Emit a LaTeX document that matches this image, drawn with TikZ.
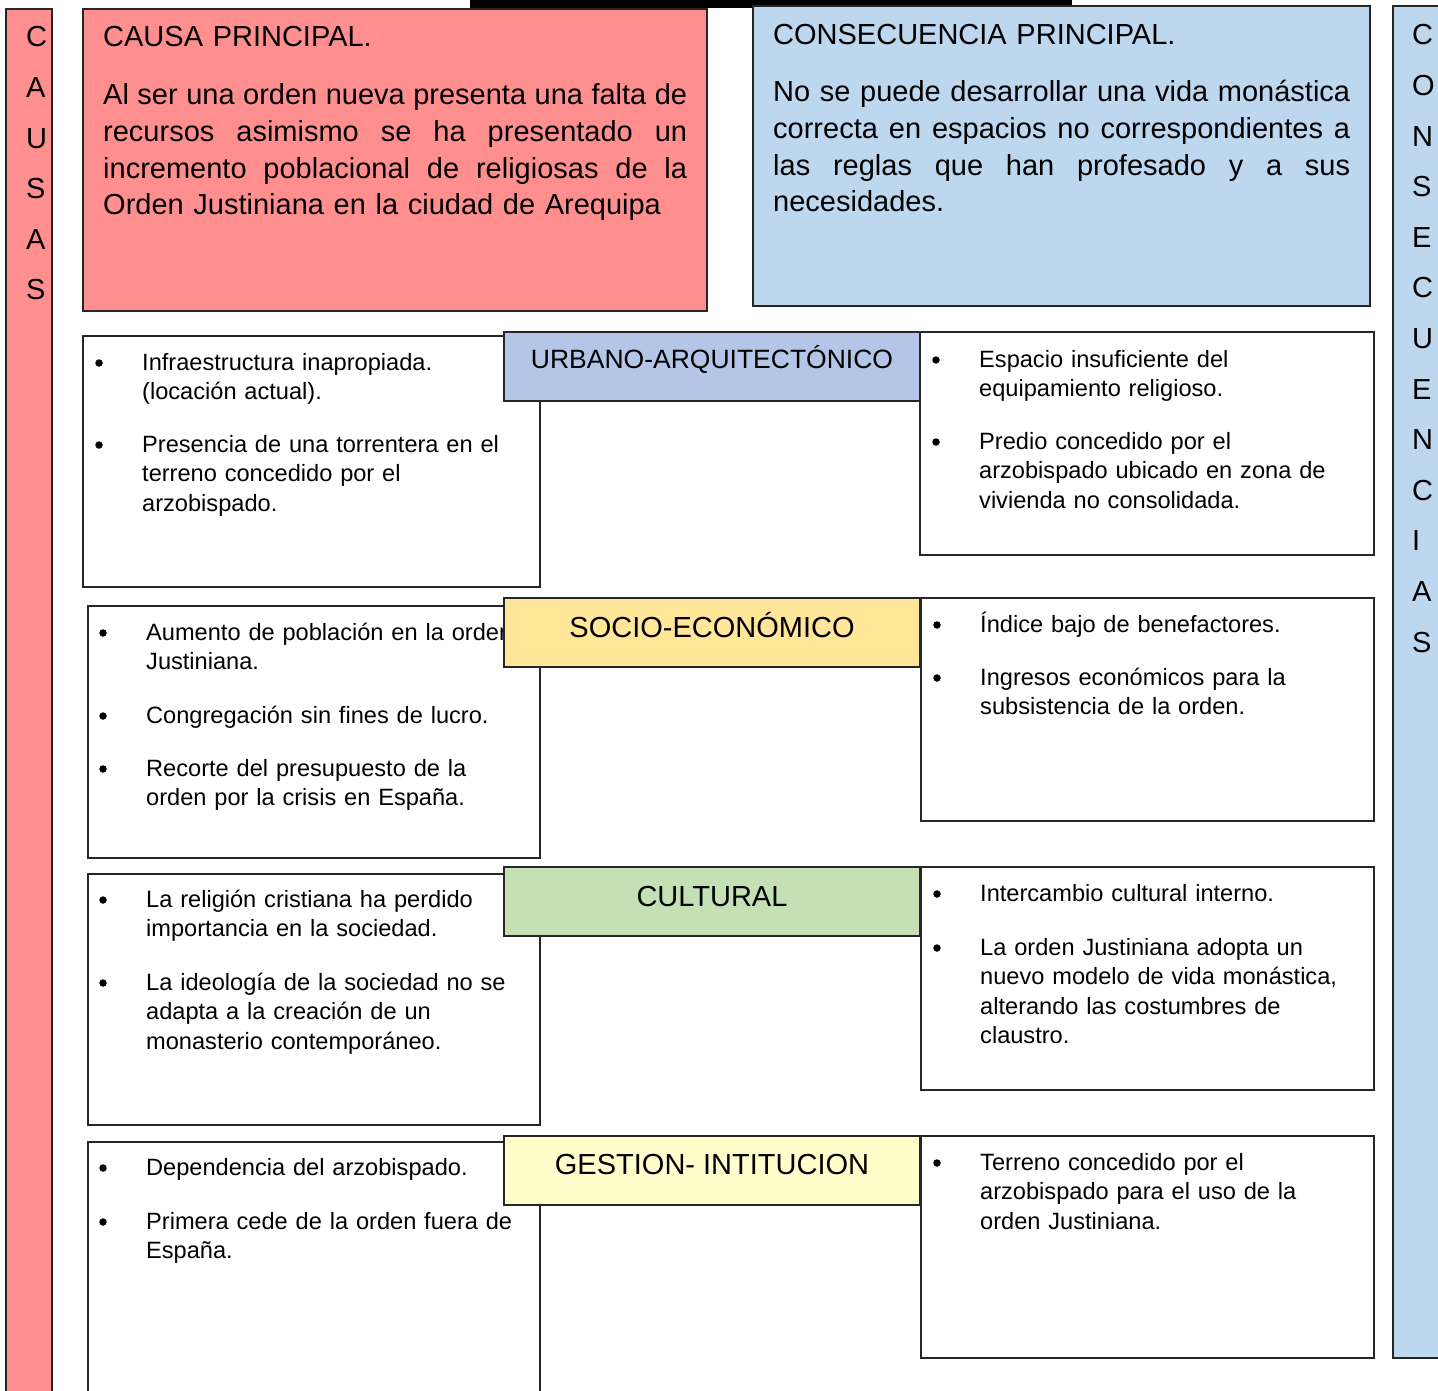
\documentclass[tikz,border=0pt]{standalone}
\usepackage{fontspec}
\setmainfont{Liberation Sans}
\definecolor{causared}{RGB}{255,143,143}
\definecolor{consblue}{RGB}{189,215,238}
\definecolor{urbblue}{RGB}{180,198,231}
\definecolor{socyel}{RGB}{255,230,153}
\definecolor{culgreen}{RGB}{197,224,180}
\definecolor{gesyel}{RGB}{255,255,204}
\newcommand\fbody{\fontsize{23.6}{29.5}\selectfont}
\newcommand\fbig{\fontsize{29}{36.6}\selectfont}
\newcommand\fletters{\fontsize{29}{50.6}\selectfont}
\newcommand\fhdr{\fontsize{29}{34}\selectfont}
\newcommand\jline[2]{\leavevmode\hbox to #1{\spaceskip=0.278em plus 1fil minus 0.2em\relax #2}}
\begin{document}
\begin{tikzpicture}[x=1pt,y=-1pt,
  panel/.style={draw=black!85,line width=2pt},
  item/.style={anchor=base west,inner sep=0pt,font=\fbody,text width=420pt,align=left},
  bigtext/.style={anchor=base west,inner sep=0pt,font=\fbig,text width=600pt,align=left},
  letters/.style={anchor=base west,inner sep=0pt,font=\fletters,text width=40pt,align=left},
  hdrtext/.style={anchor=base,inner sep=0pt,font=\fhdr},
  bul/.style={circle,fill=black,inner sep=0pt,minimum size=7.5pt}]
\useasboundingbox (0,0) rectangle (1438,1391);
\fill[white] (0,0) rectangle (1438,1391);

% top black bar
\fill[black] (470,-5) rectangle (1072,8);

% side columns
\path[panel,fill=causared] (6,9) rectangle (52,1400);
\node[letters] (vcausas) at (26,47) {C\\A\\U\\S\\A\\S};
\path[panel,fill=consblue] (1393,6) rectangle (1450,1358);
\node[letters] (vcons) at (1412,45) {C\\O\\N\\S\\E\\C\\U\\E\\N\\C\\I\\A\\S};

% main boxes
\path[panel,fill=causared] (83,9) rectangle (707,311);
\node[bigtext] (ct) at (103,47) {CAUSA PRINCIPAL.};
\node[bigtext] (cp) at (103,105) {\jline{584pt}{Al ser una orden nueva presenta una falta de}\\
\jline{584pt}{recursos asimismo se ha presentado un}\\
\jline{584pt}{incremento poblacional de religiosas de la}\\
Orden Justiniana en la ciudad de Arequipa};

\path[panel,fill=consblue] (753,6) rectangle (1370,306);
\node[bigtext] (kt) at (773,45) {CONSECUENCIA PRINCIPAL.};
\node[bigtext] (kp) at (773,102) {\jline{577pt}{No se puede desarrollar una vida monástica}\\
\jline{577pt}{correcta en espacios no correspondientes a}\\
\jline{577pt}{las reglas que han profesado y a sus}\\
necesidades.};

% ---------- left boxes (causes)
\path[panel,fill=white] (83,336) rectangle (540,587);
\node[bul] (b1a) at (99,363) {};
\node[item] (l1a) at (142,370) {Infraestructura inapropiada.\\(locación actual).};
\node[bul] (b1b) at (99,445) {};
\node[item] (l1b) at (142,452) {Presencia de una torrentera en el\\terreno concedido por el\\arzobispado.};

\path[panel,fill=white] (88,606) rectangle (540,858);
\node[bul] (b2a) at (103,633) {};
\node[item] (l2a) at (146,640) {Aumento de población en la orden\\Justiniana.};
\node[bul] (b2b) at (103,716) {};
\node[item] (l2b) at (146,723) {Congregación sin fines de lucro.};
\node[bul] (b2c) at (103,769) {};
\node[item] (l2c) at (146,776) {Recorte del presupuesto de la\\orden por la crisis en España.};

\path[panel,fill=white] (88,874) rectangle (540,1125);
\node[bul] (b3a) at (103,900) {};
\node[item] (l3a) at (146,907) {La religión cristiana ha perdido\\importancia en la sociedad.};
\node[bul] (b3b) at (103,983) {};
\node[item] (l3b) at (146,990) {La ideología de la sociedad no se\\adapta a la creación de un\\monasterio contemporáneo.};

\path[panel,fill=white] (88,1142) rectangle (540,1410);
\node[bul] (b4a) at (103,1168) {};
\node[item] (l4a) at (146,1175) {Dependencia del arzobispado.};
\node[bul] (b4b) at (103,1222) {};
\node[item] (l4b) at (146,1229) {Primera cede de la orden fuera de\\España.};

% ---------- right boxes (consequences)
\path[panel,fill=white] (920,332) rectangle (1374,555);
\node[bul] (r1a) at (936,360) {};
\node[item] (t1a) at (979,367) {Espacio insuficiente del\\equipamiento religioso.};
\node[bul] (r1b) at (936,442) {};
\node[item] (t1b) at (979,449) {Predio concedido por el\\arzobispado ubicado en zona de\\vivienda no consolidada.};

\path[panel,fill=white] (921,598) rectangle (1374,821);
\node[bul] (r2a) at (937,625) {};
\node[item] (t2a) at (980,632) {Índice bajo de benefactores.};
\node[bul] (r2b) at (937,678) {};
\node[item] (t2b) at (980,685) {Ingresos económicos para la\\subsistencia de la orden.};

\path[panel,fill=white] (921,867) rectangle (1374,1090);
\node[bul] (r3a) at (937,894) {};
\node[item] (t3a) at (980,901) {Intercambio cultural interno.};
\node[bul] (r3b) at (937,948) {};
\node[item] (t3b) at (980,955) {La orden Justiniana adopta un\\nuevo modelo de vida monástica,\\alterando las costumbres de\\claustro.};

\path[panel,fill=white] (921,1136) rectangle (1374,1358);
\node[bul] (r4a) at (937,1163) {};
\node[item] (t4a) at (980,1170) {Terreno concedido por el\\arzobispado para el uso de la\\orden Justiniana.};

% ---------- headers
\path[panel,fill=urbblue] (504,332) rectangle (920,401);
\node[hdrtext,font=\fontsize{26.5}{30}\selectfont] (h1) at (712,368) {URBANO-ARQUITECTÓNICO};
\path[panel,fill=socyel] (504,598) rectangle (920,667);
\node[hdrtext] (h2) at (712,637) {SOCIO-ECONÓMICO};
\path[panel,fill=culgreen] (504,867) rectangle (920,936);
\node[hdrtext] (h3) at (712,906) {CULTURAL};
\path[panel,fill=gesyel] (504,1136) rectangle (920,1205);
\node[hdrtext] (h4) at (712,1174) {GESTION- INTITUCION};
\end{tikzpicture}
\end{document}
